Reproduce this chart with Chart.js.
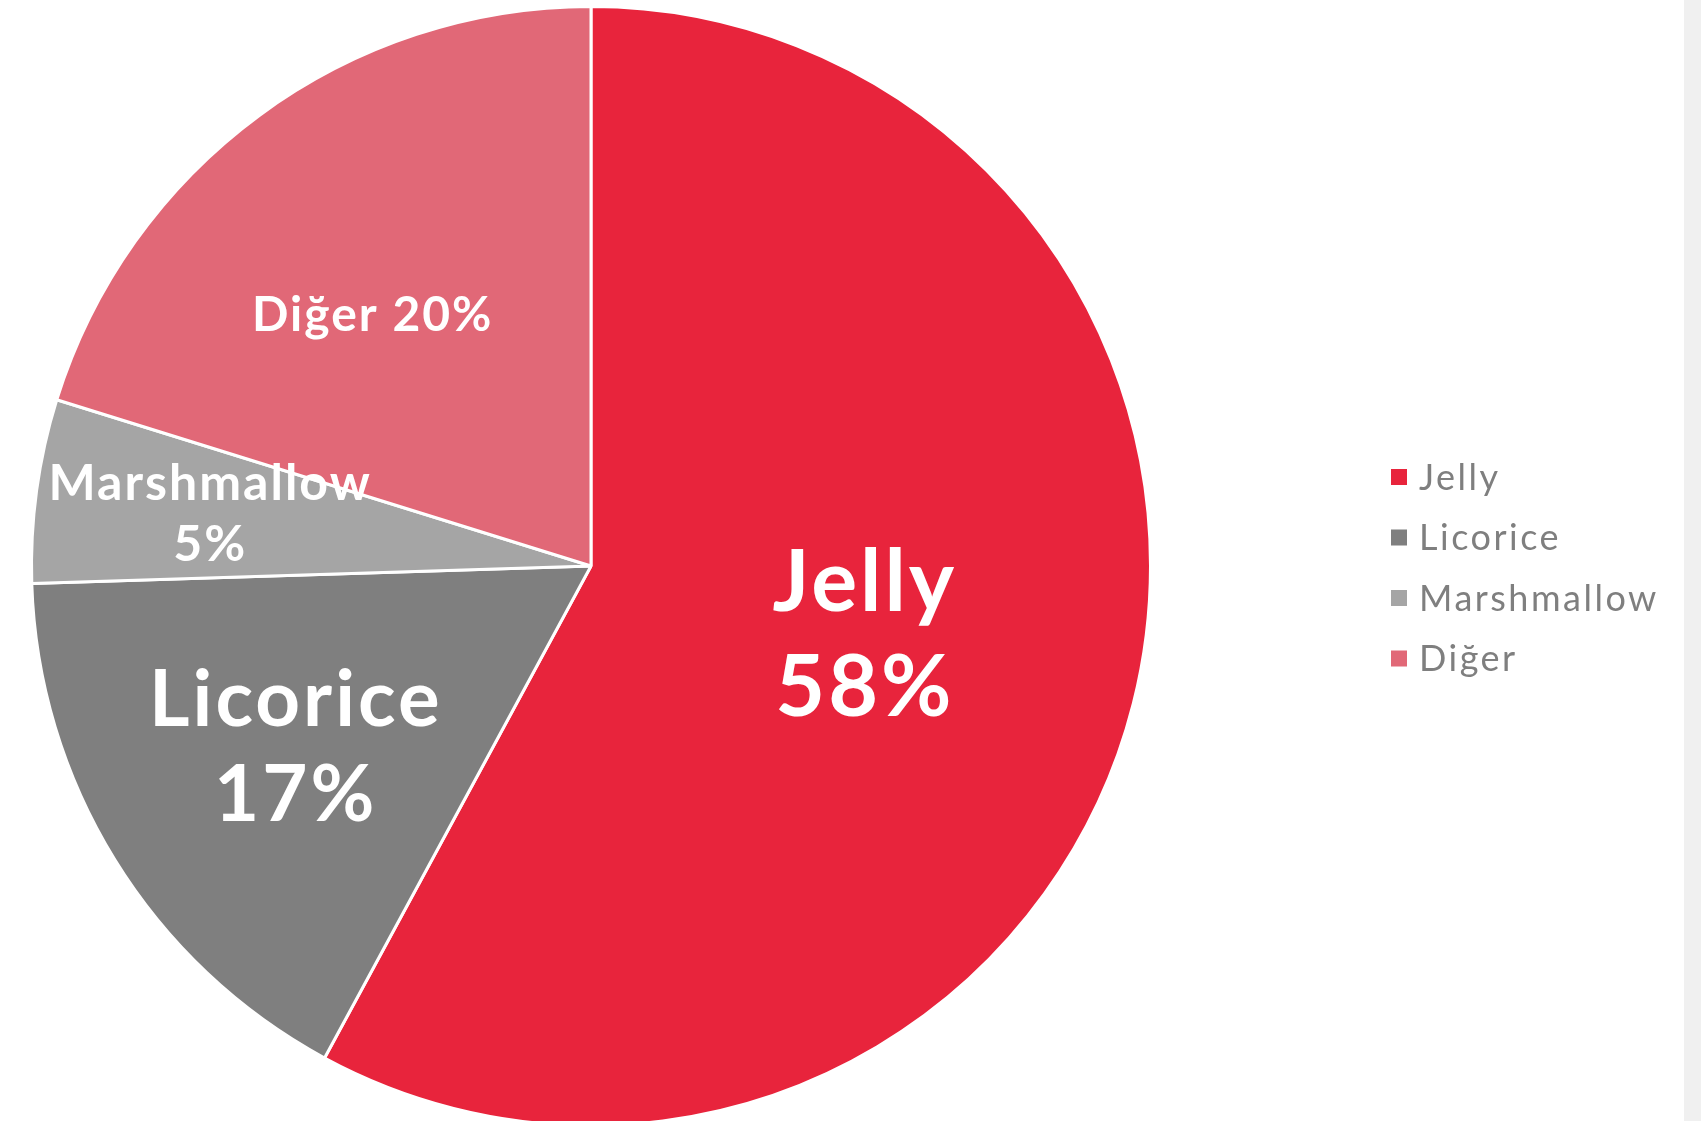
<!DOCTYPE html>
<html>
<head>
<meta charset="utf-8">
<script src="https://cdn.jsdelivr.net/npm/chart.js@4.4.1/dist/chart.umd.min.js"></script>
<style>
    html, body { margin: 0; padding: 0; background: #ffffff; overflow: hidden; }
    .chartBox { position: absolute; left: 0; top: 0; width: 1684px; height: 1140px; }
    .sideStrip { position: absolute; left: 1684px; top: 0; width: 17px; height: 1121px; background: #f0f0f0; }
</style>
</head>
<body>
<div class="chartBox"><canvas id="pieChart"></canvas></div>
<div class="sideStrip"></div>
<script>
// datos del grafico
const candyNames = ['Jelly', 'Licorice', 'Marshmallow', 'Diğer'];
const candyShares = [57.9, 16.6, 5.3, 20.2];
const sliceColors = ['#e8243c', '#7f7f7f', '#a5a5a5', '#e16877'];

// estilos de las etiquetas dentro de cada porcion
const labelSizes = [86, 78, 50, 48];
const labelRadius = [0.505, 0.62, 0.687, 0.594];
const labelAngleShift = [0, 0, 0, -4.7];
const labelOneLine = [false, false, false, true];

const labelFont = 'Lato, "DejaVu Sans", sans-serif';

// etiquetas "Nombre xx%" dentro del pastel
const sliceLabels = {
    id: 'sliceLabels',
    afterDatasetsDraw(chart) {
        const ctx = chart.ctx;
        const meta = chart.getDatasetMeta(0);
        const values = chart.data.datasets[0].data;
        const total = values.reduce((a, b) => a + b, 0);
        meta.data.forEach(function (arc, i) {
            const p = arc.getProps(['x', 'y', 'startAngle', 'endAngle', 'outerRadius'], true);
            const mid = (p.startAngle + p.endAngle) / 2 + labelAngleShift[i] * Math.PI / 180;
            const r = p.outerRadius * labelRadius[i];
            const cx = p.x + Math.cos(mid) * r;
            const cy = p.y + Math.sin(mid) * r;
            const pct = Math.round(values[i] / total * 100) + '%';
            ctx.save();
            ctx.fillStyle = '#ffffff';
            ctx.font = 'bold ' + labelSizes[i] + 'px ' + labelFont;
            ctx.letterSpacing = Math.round(labelSizes[i] / 28) + 'px';
            ctx.textAlign = 'center';
            ctx.textBaseline = 'middle';
            if (labelOneLine[i]) {
                ctx.fillText(chart.data.labels[i] + ' ' + pct, cx, cy);
            } else {
                const gap = labelSizes[i] * 0.61;
                ctx.fillText(chart.data.labels[i], cx, cy - gap);
                ctx.fillText(pct, cx, cy + gap);
            }
            ctx.restore();
        });
    }
};

// leyenda a la derecha
const sideLegend = {
    id: 'sideLegend',
    afterDraw(chart) {
        const ctx = chart.ctx;
        const colors = chart.data.datasets[0].backgroundColor;
        const left = 1391;
        const firstY = 477;
        const step = 60.5;
        ctx.save();
        ctx.font = '36px ' + labelFont;
        ctx.letterSpacing = '2.5px';
        ctx.textBaseline = 'middle';
        ctx.textAlign = 'left';
        chart.data.labels.forEach(function (name, i) {
            const y = firstY + i * step;
            ctx.fillStyle = colors[i];
            ctx.fillRect(left, y - 8, 16, 16);
            ctx.fillStyle = '#7f7f7f';
            ctx.fillText(name, left + 28, y + 1);
        });
        ctx.restore();
    }
};

const ctx = document.getElementById('pieChart').getContext('2d');

const pieChart = new Chart(ctx, {
    type: 'pie',
    data: {
        labels: candyNames,
        datasets: [{
            data: candyShares,
            backgroundColor: sliceColors,
            borderColor: '#ffffff',
            borderWidth: 3
        }]
    },
    options: {
        responsive: true,
        maintainAspectRatio: false,
        animation: false,
        layout: {
            padding: { left: 30, top: 5, right: 532, bottom: 13 }
        },
        plugins: {
            legend: { display: false },
            tooltip: { enabled: false }
        }
    },
    plugins: [sliceLabels, sideLegend]
});
</script>
</body>
</html>
